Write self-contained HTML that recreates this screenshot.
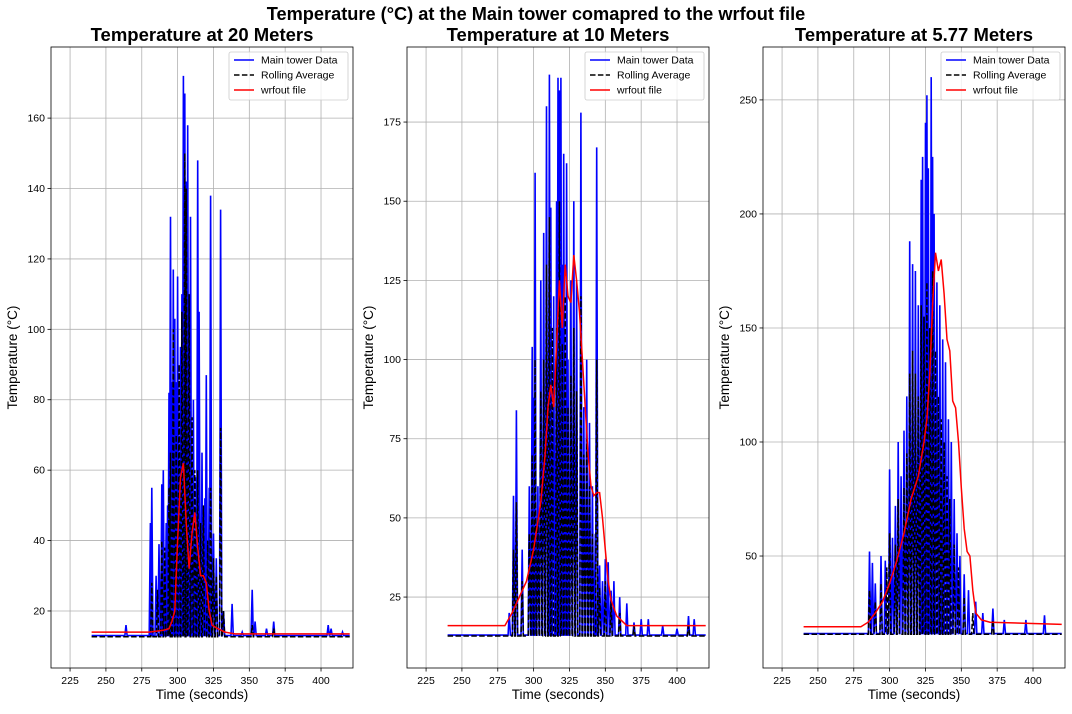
<!DOCTYPE html>
<html><head><meta charset="utf-8"><style>
body{margin:0;background:#fff;width:1072px;height:709px;overflow:hidden;font-family:"Liberation Sans",sans-serif}
svg text{font-family:"Liberation Sans",sans-serif}
</style></head><body>
<svg id="c" width="1072" height="709">
<text x="536" y="20" text-anchor="middle" font-size="18.2" font-weight="bold">Temperature (°C) at the Main tower comapred to the wrfout file</text>
</svg>
<script>
const xTicks=[225,250,275,300,325,350,375,400];
const p1Ticks=[20,40,60,80,100,120,140,160];
const p2Ticks=[25,50,75,100,125,150,175];
const p3Ticks=[50,100,150,200,250];
const p1Main=[[264,16],[281,45],[282,55],[285,30],[287,39],[289,56],[290,60],[292,45],[293,50],[294,82],[295,132],[296,85],[297,117],[298,103],[299,85],[300,115],[302,95],[303,110],[304,172],[305,167],[306,142],[307,158],[308,105],[309,132],[311,80],[313,58],[314,148],[315,105],[317,65],[319,52],[320,87],[322,55],[323,138],[325,42],[327,35],[330,134],[332,20],[338,22],[345,14],[352,26],[354,17],[362,15],[367,17],[392,13],[405,16],[407,15],[415,14]];
const p1Roll=[[282,28],[286,26],[289,40],[291,38],[294,55],[295,65],[297,100],[299,70],[301,90],[303,105],[305,150],[306,140],[308,110],[310,75],[312,60],[314,60],[316,45],[318,50],[321,40],[323,55],[325,35],[327,30],[330,72],[332,20],[352,16],[367,15]];
const p1Wrf=[[240,14],[280,14],[290,14.5],[294,15],[296,17],[298,20],[300,40],[302,58],[304,62],[306,45],[308,32],[310,42],[312,48],[314,38],[316,30],[318,30],[320,28],[322,20],[324,16],[328,15],[333,14],[340,13.5],[420,13.5]];
const p2Main=[[283,20],[286,57],[288,84],[292,40],[297,60],[299,104],[300,88],[301,159],[303,60],[305,125],[307,140],[309,180],[311,190],[312,148],[314,120],[316,150],[317,189],[318,185],[319,189],[320,130],[321,165],[323,162],[324,100],[326,125],[328,150],[330,125],[333,178],[335,85],[337,100],[339,80],[341,60],[343,45],[344,167],[346,35],[348,30],[350,37],[352,36],[354,27],[356,30],[360,25],[365,23],[370,17],[375,18],[380,18],[390,16],[400,15],[408,19],[412,18]];
const p2Roll=[[286,40],[288,55],[292,30],[297,45],[299,70],[301,100],[303,50],[305,90],[307,100],[309,130],[311,145],[313,110],[316,110],[318,150],[320,105],[322,120],[324,85],[326,95],[328,110],[330,90],[333,120],[335,70],[337,75],[339,60],[341,45],[344,100],[346,28],[350,30],[354,24],[360,20],[370,16],[408,16]];
const p2Wrf=[[240,16],[280,16],[285,20],[290,25],[295,30],[300,40],[305,55],[308,70],[310,85],[312,92],[314,85],[316,105],[318,125],[320,110],[322,130],[324,120],[326,118],[328,133],[330,125],[332,115],[334,100],[336,85],[338,70],[340,60],[342,57],[344,58],[346,58],[348,50],[350,40],[352,30],[354,24],[358,19],[365,16],[420,16]];
const p3Main=[[286,52],[288,47],[290,38],[294,50],[297,48],[300,88],[302,58],[304,72],[306,100],[308,85],[310,105],[312,120],[314,188],[316,178],[318,175],[320,160],[322,215],[323,225],[325,240],[326,252],[327,220],[329,260],[330,225],[331,200],[333,170],[335,160],[337,145],[339,135],[341,110],[343,100],[345,75],[347,60],[349,50],[352,42],[355,35],[360,30],[365,25],[372,27],[380,22],[395,22],[408,24]];
const p3Roll=[[286,35],[290,30],[294,38],[298,45],[300,60],[304,55],[306,75],[310,80],[312,95],[314,130],[316,140],[318,130],[320,120],[322,160],[324,155],[326,170],[328,150],[330,175],[332,140],[334,120],[336,110],[338,100],[340,85],[342,75],[345,55],[348,45],[352,32],[358,25],[372,22]];
const p3Wrf=[[240,19],[280,19],[285,21],[290,25],[295,30],[300,38],[305,48],[310,60],[315,75],[320,85],[324,100],[326,110],[328,130],[330,160],[332,183],[334,175],[336,180],[338,165],[340,145],[342,140],[344,118],[346,115],[348,100],[350,80],[352,62],[354,52],[356,50],[358,35],[360,25],[364,22],[370,21],[420,20]];
const titles=["Temperature at 20 Meters","Temperature at 10 Meters","Temperature at 5.77 Meters"];
const NS="http://www.w3.org/2000/svg";
const svg=document.getElementById('c');
function mk(tag,attrs,parent){const e=document.createElementNS(NS,tag);for(const k in attrs)e.setAttribute(k,attrs[k]);(parent||svg).appendChild(e);return e;}
function spikes(peaks,base,t0,t1,hw){const pts=[[t0,base]];peaks.forEach(p=>{pts.push([p[0]-hw,base]);pts.push([p[0],p[1]]);pts.push([p[0]+hw,base]);});pts.push([t1,base]);return pts;}
const panels=[
 {x0:51,x1:353,ymin:3.8,ymax:180.2,ticks:p1Ticks,main:p1Main,roll:p1Roll,wrf:p1Wrf,base:13},
 {x0:407,x1:709,ymin:2.6,ymax:198.7,ticks:p2Ticks,main:p2Main,roll:p2Roll,wrf:p2Wrf,base:13},
 {x0:763,x1:1065,ymin:0.9,ymax:273.2,ticks:p3Ticks,main:p3Main,roll:p3Roll,wrf:p3Wrf,base:16}];
const yT=47,yB=668,xmin=211.7,xmax=422.3;
panels.forEach((P,i)=>{
 const g=mk('g',{});
 
 
 const sx=v=>P.x0+(v-xmin)/(xmax-xmin)*(P.x1-P.x0);
 const sy=v=>yB-(v-P.ymin)/(P.ymax-P.ymin)*(yB-yT);
 const clip=mk('clipPath',{id:'cl'+i},g);mk('rect',{x:P.x0,y:yT,width:P.x1-P.x0,height:yB-yT},clip);
 xTicks.forEach(t=>{const x=sx(t);
  const gl=mk('line',{x1:x,x2:x,y1:yT,y2:yB,stroke:'#b0b0b0','stroke-width':0.8},g);
  
  mk('line',{x1:x,x2:x,y1:yB,y2:yB+3.5,stroke:'#000','stroke-width':0.8},g);
  const tx=mk('text',{x:x,y:yB+16,'text-anchor':'middle','font-size':10.5},g);tx.textContent=t;
  });
 P.ticks.forEach(t=>{const y=sy(t);
  const gl=mk('line',{x1:P.x0,x2:P.x1,y1:y,y2:y,stroke:'#b0b0b0','stroke-width':0.8},g);
  
  mk('line',{x1:P.x0-3.5,x2:P.x0,y1:y,y2:y,stroke:'#000','stroke-width':0.8},g);
  const tx=mk('text',{x:P.x0-6,y:y+3.5,'text-anchor':'end','font-size':10.5},g);tx.textContent=t;
  });
 const d=a=>a.map((p,k)=>(k?'L':'M')+sx(p[0]).toFixed(1)+','+sy(p[1]).toFixed(1)).join('');
 const cg=mk('g',{'clip-path':'url(#cl'+i+')'},g);
 const m=mk('path',{d:d(spikes(P.main,P.base,240,420,0.8)),fill:'none',stroke:'#0000ff','stroke-width':1.6},cg);
 
 const r=mk('path',{d:d(spikes(P.roll,P.base-0.3,240,420,0.8)),fill:'none',stroke:'#000','stroke-width':1.5,'stroke-dasharray':'5.5,2.4'},cg);
 
 const w=mk('path',{d:d(P.wrf),fill:'none',stroke:'#ff0000','stroke-width':1.5},cg);
 
 const fr=mk('rect',{x:P.x0,y:yT,width:P.x1-P.x0,height:yB-yT,fill:'none',stroke:'#000','stroke-width':0.8},g);
 
 const ti=mk('text',{x:(P.x0+P.x1)/2,y:41,'text-anchor':'middle','font-size':18.5,'font-weight':'bold'},g);ti.textContent=titles[i];
 
 const xl=mk('text',{x:(P.x0+P.x1)/2,y:699,'text-anchor':'middle','font-size':13.5},g);xl.textContent='Time (seconds)';
 
 const yl=mk('text',{x:0,y:0,'text-anchor':'middle','font-size':13.5,transform:'translate('+(P.x0-34)+','+((yT+yB)/2)+') rotate(-90)'},g);yl.textContent='Temperature (°C)';
 
 const lg=mk('g',{},g);
 
 const lx=P.x1-124;
 mk('rect',{x:lx,y:52,width:119,height:48,rx:2,fill:'#fff','fill-opacity':0.8,stroke:'#ccc','stroke-width':0.8},lg);
 [['Main tower Data','#0000ff',''],['Rolling Average','#000','5.5,2.4'],['wrfout file','#ff0000','']].forEach((e,k)=>{
  const y=60+k*15;
  const ln=mk('line',{x1:lx+5,x2:lx+25,y1:y,y2:y,stroke:e[1],'stroke-width':1.5,'stroke-dasharray':e[2]},lg);
  
  const t=mk('text',{x:lx+32,y:y+3.5,'font-size':10.5},lg);t.textContent=e[0];
  });
});
</script>
</body></html>
